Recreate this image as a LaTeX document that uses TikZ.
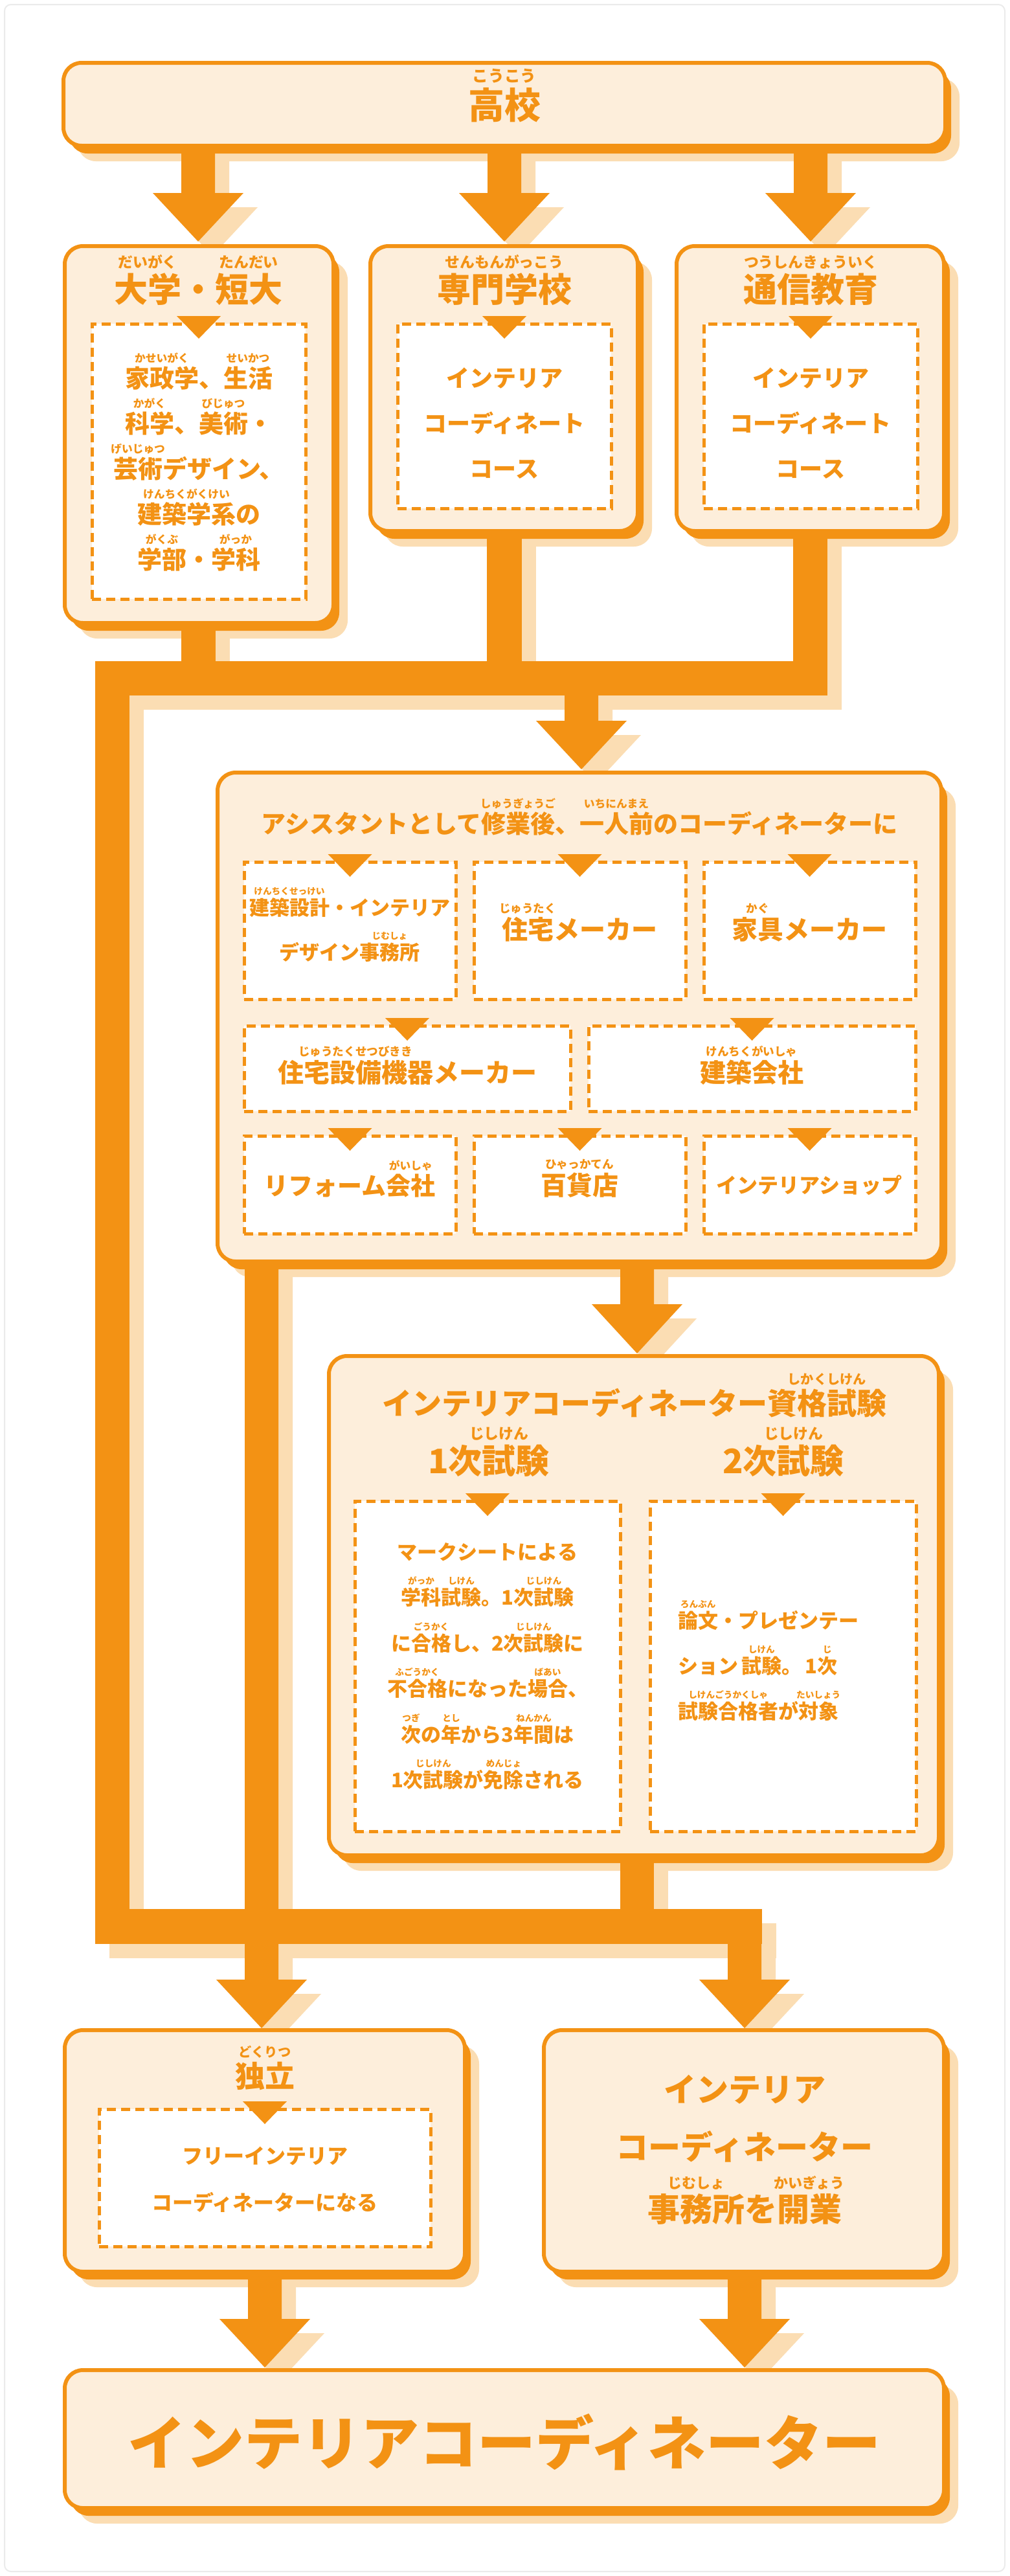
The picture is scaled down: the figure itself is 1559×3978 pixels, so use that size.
\documentclass[tikz,border=0pt]{standalone}
\usepackage{fontspec}
\setmainfont{Noto Sans CJK JP}
\pgfdeclarelayer{bg}\pgfdeclarelayer{mid}\pgfsetlayers{bg,mid,main}
\definecolor{org}{HTML}{F39214}
\definecolor{lit}{HTML}{FDEEDB}
\definecolor{shc}{HTML}{FBDDB3}
\def\rbsz{12pt}
\newcommand\fs[1]{\fontsize{#1}{#1}\selectfont\edef\rbsz{\the\dimexpr #1pt*44/100\relax}}
\newcommand\rb[2]{\leavevmode\setbox0\hbox{#1}\setbox2\hbox{\fontsize{\rbsz}{\rbsz}\selectfont#2}\vbox{\hbox to\wd0{\hss\box2\hss}\kern1pt\box0}}
\tikzset{
 cardst/.style={draw=org,fill=lit,line width=6pt,rounded corners=28pt,inner sep=0,outer sep=0},
 dbox/.style={draw=org,fill=white,line width=5pt,dash pattern=on 14pt off 8pt},
 txt/.style={anchor=base,inner sep=0,text=org},
 txl/.style={anchor=base west,inner sep=0,text=org}
}
\newcommand\card[5]{%
 \begin{pgfonlayer}{bg}\fill[shc,rounded corners=28pt] (#2+22,#3+24) rectangle (#4+22,#5+24);\end{pgfonlayer}
 \begin{pgfonlayer}{mid}\fill[org,rounded corners=28pt] (#2+9,#3+12) rectangle (#4+9,#5+12);\end{pgfonlayer}
 \node[cardst,minimum width={(#4-#2)*1pt},minimum height={(#5-#3)*1pt}] (#1) at ({(#2+#4)/2},{(#3+#5)/2}) {};}
\newcommand\dbx[5]{\node[dbox,inner sep=0,minimum width={(#4-#2)*1pt},minimum height={(#5-#3)*1pt}] (#1) at ({(#2+#4)/2},{(#3+#5)/2}) {};
 \fill[org] ({(#2+#4)/2-34},#3-12) -- ({(#2+#4)/2+34},#3-12) -- ({(#2+#4)/2},#3+23) -- cycle;}
\newcommand\obar[4]{%
 \begin{pgfonlayer}{bg}\fill[shc] (#1+22,#2+22) rectangle (#3+22,#4+22);\end{pgfonlayer}
 \begin{pgfonlayer}{mid}\fill[org] (#1,#2) rectangle (#3,#4);\end{pgfonlayer}}
\newcommand\oarr[4]{%
 \begin{pgfonlayer}{bg}\fill[shc] (#1-26+22,#2+22) -- (#1+26+22,#2+22) -- (#1+26+22,#3+22) -- (#1+70+22,#3+22) -- (#1+22,#4+22) -- (#1-70+22,#3+22) -- (#1-26+22,#3+22) -- cycle;\end{pgfonlayer}
 \begin{pgfonlayer}{mid}\fill[org] (#1-26,#2) -- (#1+26,#2) -- (#1+26,#3) -- (#1+70,#3) -- (#1,#4) -- (#1-70,#3) -- (#1-26,#3) -- cycle;\end{pgfonlayer}}
\newcommand\tx[5]{\node[txt,font=\bfseries\fs{#4}] (#1) at (#2,{#3+0.37*#4}) {#5};}
\newcommand\txL[5]{\node[txl,font=\bfseries\fs{#4}] (#1) at (#2,{#3+0.37*#4}) {#5};}
\begin{document}
\begin{tikzpicture}[x=1pt,y=-1pt]
\useasboundingbox (0,0) rectangle (1559,3978);
\begin{pgfonlayer}{bg}
\fill[white] (0,0) rectangle (1559,3978);
\draw[black!8,line width=2pt,rounded corners=10pt] (7,7) rectangle (1552,3971);
\end{pgfonlayer}
% connectors
\oarr{306}{225}{298}{373}
\oarr{779}{225}{298}{373}
\oarr{1252}{225}{298}{373}
\obar{280}{962}{333}{1074}
\obar{752}{820}{806}{1074}
\obar{1225}{820}{1278}{1074}
\obar{147}{1021}{1278}{1074}
\obar{147}{1021}{200}{3002}
\oarr{898}{1074}{1113}{1188}
\oarr{404}{1948}{3057}{3132}
\oarr{984}{1948}{2014}{2090}
\obar{958}{2865}{1010}{2948}
\obar{147}{2948}{1177}{3002}
\oarr{1150}{2948}{3057}{3132}
\oarr{409}{3508}{3581}{3656}
\oarr{1150}{3508}{3581}{3656}
% cards
\card{koko}{98}{97}{1460}{225}
\card{daigaku}{100}{380}{515}{962}
\card{senmon}{572}{380}{985}{820}
\card{tsushin}{1045}{380}{1458}{820}
\card{assist}{336}{1193}{1454}{1948}
\card{exam}{508}{2094}{1450}{2865}
\card{dokuritsu}{100}{3135}{718}{3508}
\card{jimusho}{840}{3135}{1458}{3508}
\card{final}{100}{3660}{1458}{3873}
% dashed boxes
\dbx{d1}{142}{500}{472}{925}
\dbx{d2}{614}{500}{944}{785}
\dbx{d3}{1087}{500}{1417}{785}
\dbx{a1}{377}{1331}{704}{1543}
\dbx{a2}{732}{1331}{1059}{1543}
\dbx{a3}{1087}{1331}{1414}{1543}
\dbx{a4}{377}{1584}{881}{1716}
\dbx{a5}{909}{1584}{1414}{1716}
\dbx{a6}{377}{1754}{704}{1905}
\dbx{a7}{732}{1754}{1059}{1905}
\dbx{a8}{1087}{1754}{1414}{1905}
\dbx{e1}{548}{2318}{958}{2828}
\dbx{e2}{1004}{2318}{1415}{2828}
\dbx{f1}{153}{3257}{665}{3469}
% texts
\tx{t0}{779}{163}{56}{\rb{高校}{こうこう}}
\tx{t1}{306}{447}{52}{\rb{大学}{だいがく}・\rb{短大}{たんだい}}
\tx{t2}{779}{447}{52}{\rb{専門学校}{せんもんがっこう}}
\tx{t3}{1252}{447}{52}{\rb{通信教育}{つうしんきょういく}}
\tx{t11}{307}{584}{38}{\rb{家政学}{かせいがく}、\rb{生活}{せいかつ}}
\tx{t12}{307}{654}{38}{\rb{科学}{かがく}、\rb{美術}{びじゅつ}・}
\tx{t13}{307}{724}{38}{\rb{芸術}{げいじゅつ}デザイン、}
\tx{t14}{307}{794}{38}{\rb{建築学系}{けんちくがくけい}の}
\tx{t15}{307}{864}{38}{\rb{学部}{がくぶ}・\rb{学科}{がっか}}
\tx{t21}{779}{584}{36}{インテリア}
\tx{t22}{779}{654}{36}{コーディネート}
\tx{t23}{779}{724}{36}{コース}
\tx{t31}{1252}{584}{36}{インテリア}
\tx{t32}{1252}{654}{36}{コーディネート}
\tx{t33}{1252}{724}{36}{コース}
\tx{ta}{895}{1272}{38}{アシスタントとして\rb{修業後}{しゅうぎょうご}、\rb{一人前}{いちにんまえ}のコーディネーターに}
\tx{ta1}{540}{1402}{31}{\rb{建築設計}{けんちくせっけい}・インテリア}
\tx{ta1b}{540}{1471}{31}{デザイン\rb{事務所}{じむしょ}}
\tx{ta2}{895}{1436}{40}{\rb{住宅}{じゅうたく}メーカー}
\tx{ta3}{1250}{1436}{40}{\rb{家具}{かぐ}メーカー}
\tx{ta4}{629}{1657}{40}{\rb{住宅設備機器}{じゅうたくせつびきき}メーカー}
\tx{ta5}{1161}{1657}{40}{\rb{建築会社}{けんちくがいしゃ}}
\tx{ta6}{540}{1831}{38}{リフォーム\rb{会社}{がいしゃ}}
\tx{ta7}{895}{1831}{40}{\rb{百貨店}{ひゃっかてん}}
\tx{ta8}{1250}{1831}{32}{インテリアショップ}
\tx{te}{980}{2167}{46}{インテリアコーディネーター\rb{資格試験}{しかくしけん}}
\tx{te1}{755}{2256}{52}{1\rb{次試験}{じしけん}}
\tx{te2}{1210}{2256}{52}{2\rb{次試験}{じしけん}}
\tx{l1}{753}{2397}{31}{マークシートによる}
\tx{l2}{753}{2467}{31}{\rb{学科}{がっか}\rb{試験}{しけん}。1\rb{次試験}{じしけん}}
\tx{l3}{753}{2538}{31}{に\rb{合格}{ごうかく}し、2\rb{次試験}{じしけん}に}
\tx{l4}{753}{2608}{31}{\rb{不合格}{ふごうかく}になった\rb{場合}{ばあい}、}
\tx{l5}{753}{2679}{31}{\rb{次}{つぎ}の\rb{年}{とし}から3\rb{年間}{ねんかん}は}
\tx{l6}{753}{2749}{31}{1\rb{次試験}{じしけん}が\rb{免除}{めんじょ}される}
\txL{r1}{1047}{2503}{31}{\rb{論文}{ろんぶん}・プレゼンテー}
\txL{r2}{1047}{2573}{31}{ション\,\rb{試験}{しけん}。\,1\rb{次}{じ}}
\txL{r3}{1047}{2643}{31}{\rb{試験合格者}{しけんごうかくしゃ}が\rb{対象}{たいしょう}}
\tx{tf}{409}{3206}{46}{\rb{独立}{どくりつ}}
\tx{tf1}{409}{3330}{32}{フリーインテリア}
\tx{tf2}{409}{3402}{32}{コーディネーターになる}
\tx{tj1}{1150}{3227}{50}{インテリア}
\tx{tj2}{1150}{3316}{50}{コーディネーター}
\tx{tj3}{1150}{3412}{50}{\rb{事務所}{じむしょ}を\rb{開業}{かいぎょう}}
\tx{tz}{779}{3773}{90}{インテリアコーディネーター}
\end{tikzpicture}
\end{document}
